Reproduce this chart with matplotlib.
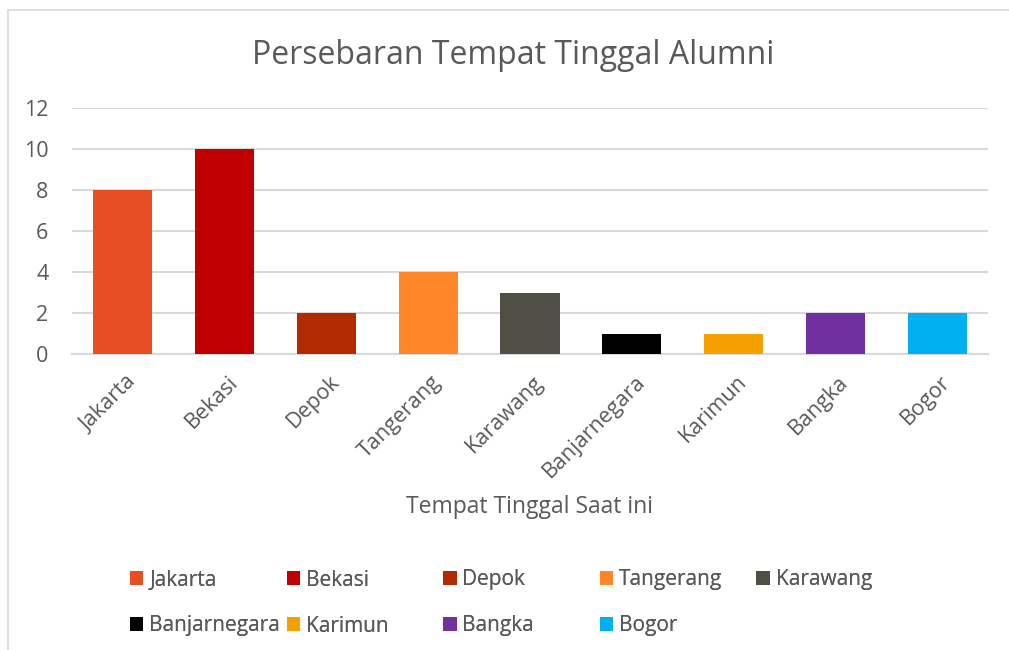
import matplotlib
matplotlib.use("Agg")
import matplotlib.pyplot as plt
import matplotlib.transforms as mtransforms
from matplotlib.patches import Patch, Rectangle

categories = ["Jakarta", "Bekasi", "Depok", "Tangerang", "Karawang",
              "Banjarnegara", "Karimun", "Bangka", "Bogor"]
values = [8, 10, 2, 4, 3, 1, 1, 2, 2]
colors = ["#E84E24", "#C00000", "#B22A00", "#FF8629", "#4F4F45",
          "#000000", "#F5A000", "#7030A0", "#00B0F0"]
yticks = [0, 2, 4, 6, 8, 10, 12]
title = "Persebaran Tempat Tinggal Alumni"
xlabel = "Tempat Tinggal Saat ini"

plt.rcParams['font.family'] = ['Open Sans', 'DejaVu Sans']
TXT = "#595959"
GRID = "#D9D9D9"
FS = 15.5
LFS = 15

W, H = 1009, 650
fig = plt.figure(figsize=(W / 100, H / 100), dpi=100)

# outer chart border (visible left/top)
fig.add_artist(Rectangle((8 / W, -0.05), 1.2, (650 - 10) / H + 0.05,
                         transform=fig.transFigure, fill=False,
                         edgecolor=GRID, linewidth=1.2))

ax = fig.add_axes([72 / W, (H - 354) / H, (988 - 72) / W, (354 - 108) / H])
x = list(range(len(categories)))
ax.bar(x, values, width=0.58, color=colors, zorder=3)
ax.set_xlim(-0.5, len(categories) - 0.5)
ax.set_ylim(0, 12)
ax.set_yticks(yticks)
ax.set_yticklabels([str(v) for v in yticks], fontsize=FS, color=TXT)
ax.yaxis.grid(True, color=GRID, linewidth=1.5, zorder=0)
ax.set_axisbelow(True)
for s in ["top", "right", "left"]:
    ax.spines[s].set_visible(False)
ax.spines["bottom"].set_color(GRID)
ax.spines["bottom"].set_linewidth(1.5)
ax.tick_params(axis="both", length=0)
ax.tick_params(axis="y", pad=17)

ax.set_xticks(x)
ax.set_xticklabels(categories, rotation=45, ha="right", va="center",
                   rotation_mode="anchor", fontsize=FS, color=TXT)
offset = mtransforms.ScaledTranslation(10 / 100, -20 / 100, fig.dpi_scale_trans)
for lab in ax.get_xticklabels():
    lab.set_transform(lab.get_transform() + offset)

fig.text(513 / W, (H - 55) / H, title, ha="center", va="center",
         fontsize=23, color=TXT)
fig.text(530 / W, (H - 507) / H, xlabel, ha="center", va="center",
         fontsize=16.5, color=TXT)

# legend: 5 columns, equal spacing, row-major order
for i, (cat, col) in enumerate(zip(categories, colors)):
    r, c = divmod(i, 5)
    xpos = (130 + c * 156.6) / W
    ypos = (H - (580 + r * 46)) / H
    leg = fig.legend(handles=[Patch(facecolor=col, edgecolor="none")],
                     labels=[cat], loc="center left",
                     bbox_to_anchor=(xpos, ypos), frameon=False,
                     fontsize=LFS, handlelength=0.64, handleheight=0.64,
                     handletextpad=0.28, borderpad=0, borderaxespad=0,
                     labelcolor=TXT)
    fig.add_artist(leg)

fig.savefig("out.png", dpi=100)
